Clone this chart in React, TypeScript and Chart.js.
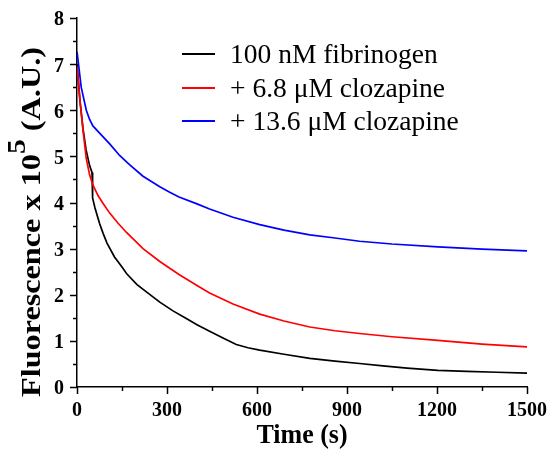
import React, { useEffect, useRef } from 'react';
import { Chart, registerables } from 'chart.js';

Chart.register(...registerables);

const seriesLabels = ['100 nM fibrinogen', '+ 6.8 \u03bcM clozapine', '+ 13.6 \u03bcM clozapine'];
const seriesColors = ['#000000', '#ff0000', '#0000ff'];

const timeBlack = [0, 10, 20, 30, 42, 50, 52, 60, 75, 87, 100, 125, 150, 165, 200, 240, 276, 320, 360, 400, 442, 490, 531, 570, 609, 690, 776, 860, 942, 1020, 1100, 1203, 1300, 1400, 1500];
const valBlack = [7.0, 6.2, 5.6, 5.15, 4.8, 4.65, 4.1, 3.88, 3.55, 3.33, 3.12, 2.82, 2.6, 2.46, 2.22, 2.02, 1.84, 1.65, 1.5, 1.35, 1.21, 1.05, 0.92, 0.85, 0.8, 0.71, 0.62, 0.56, 0.51, 0.46, 0.41, 0.36, 0.34, 0.32, 0.3];

const timeRed = [0, 10, 20, 31, 42, 53, 70, 87, 109, 137, 165, 220, 276, 340, 400, 442, 520, 609, 690, 776, 860, 942, 1050, 1203, 1350, 1500];
const valRed = [6.95, 6.2, 5.57, 4.95, 4.6, 4.38, 4.15, 3.98, 3.77, 3.55, 3.35, 3.0, 2.72, 2.44, 2.2, 2.04, 1.8, 1.58, 1.43, 1.3, 1.22, 1.16, 1.09, 1.01, 0.93, 0.87];

const timeBlue = [0, 5, 14, 31, 42, 53, 80, 109, 142, 175, 220, 276, 309, 340, 400, 442, 520, 609, 690, 776, 860, 942, 1050, 1203, 1350, 1500];
const valBlue = [7.27, 7.0, 6.5, 6.0, 5.8, 5.66, 5.47, 5.27, 5.02, 4.82, 4.57, 4.34, 4.22, 4.12, 3.97, 3.86, 3.68, 3.52, 3.4, 3.3, 3.23, 3.16, 3.1, 3.04, 2.99, 2.95];

const xTicks = [0, 300, 600, 900, 1200, 1500];
const yTicks = [0, 1, 2, 3, 4, 5, 6, 7, 8];

const SERIF = '"Liberation Serif", "Times New Roman", serif';

const toPoints = (xs: number[], ys: number[]) => xs.map((x, i) => ({ x, y: ys[i] }));

function drawStretched(ctx: any, text: string, x: number, y: number, font: string, align: string, sy: number) {
  ctx.save();
  ctx.translate(x, y);
  ctx.scale(1, sy);
  ctx.font = font;
  ctx.textAlign = align;
  ctx.textBaseline = 'alphabetic';
  ctx.fillText(text, 0, 0);
  ctx.restore();
}

const decorPlugin = {
  id: 'decor',
  afterDraw(chart: any) {
    const ctx = chart.ctx;
    const xs = chart.scales.x;
    const ys = chart.scales.y;
    const area = chart.chartArea;
    ctx.save();
    ctx.strokeStyle = '#000';
    ctx.fillStyle = '#000';
    ctx.lineWidth = 1.5;
    for (let t = xTicks[0]; t <= xTicks[xTicks.length - 1]; t += 150) {
      const px = Math.round(xs.getPixelForValue(t)) + 0.5;
      const len = t % 300 === 0 ? 7 : 4;
      ctx.beginPath();
      ctx.moveTo(px, area.bottom);
      ctx.lineTo(px, area.bottom + len);
      ctx.stroke();
    }
    for (let v = yTicks[0]; v <= yTicks[yTicks.length - 1]; v += 0.5) {
      const py = Math.round(ys.getPixelForValue(v)) + 0.5;
      const len = v % 1 === 0 ? 7 : 4;
      ctx.beginPath();
      ctx.moveTo(area.left, py);
      ctx.lineTo(area.left - len, py);
      ctx.stroke();
    }
    const tickFont = `bold 20px ${SERIF}`;
    xTicks.forEach((t) => {
      drawStretched(ctx, String(t), xs.getPixelForValue(t), 416, tickFont, 'center', 1.1);
    });
    yTicks.forEach((v) => {
      drawStretched(ctx, String(v), 64, ys.getPixelForValue(v) + 7.4, tickFont, 'right', 1.1);
    });
    const rows = [54, 88, 121];
    chart.data.datasets.forEach((ds: any, i: number) => {
      ctx.strokeStyle = ds.borderColor;
      ctx.lineWidth = 2;
      ctx.beginPath();
      ctx.moveTo(182, rows[i]);
      ctx.lineTo(215, rows[i]);
      ctx.stroke();
      drawStretched(ctx, ds.label, 230, rows[i] + 9, `27.5px ${SERIF}`, 'left', 1);
    });
    drawStretched(ctx, 'Time (s)', 302, 443, `bold 26px ${SERIF}`, 'center', 1.04);
    const p1 = 'Fluorescence x 10';
    const p2 = '5';
    const p3 = ' (A.U.)';
    const f1 = `bold 27px ${SERIF}`;
    const f2 = `bold 25px ${SERIF}`;
    ctx.font = f1;
    const w1 = ctx.measureText(p1).width;
    const w3 = ctx.measureText(p3).width;
    ctx.font = f2;
    const w2 = ctx.measureText(p2).width;
    const total = w1 + w2 + w3;
    const sx = 350 / total;
    ctx.translate(40, 222);
    ctx.rotate(-Math.PI / 2);
    ctx.scale(sx, 1);
    let x0 = -total / 2;
    ctx.textAlign = 'left';
    ctx.textBaseline = 'alphabetic';
    ctx.font = f1;
    ctx.fillText(p1, x0, 0);
    x0 += w1;
    ctx.font = f2;
    ctx.fillText(p2, x0, -15);
    x0 += w2;
    ctx.font = f1;
    ctx.fillText(p3, x0, 0);
    ctx.restore();
  },
};

export default function App() {
  const ref = useRef<HTMLCanvasElement | null>(null);
  useEffect(() => {
    if (!ref.current) return;
    const chart = new Chart(ref.current, {
      type: 'line',
      data: {
        datasets: [
          { label: seriesLabels[0], data: toPoints(timeBlack, valBlack), borderColor: seriesColors[0], order: 2 },
          { label: seriesLabels[1], data: toPoints(timeRed, valRed), borderColor: seriesColors[1], order: 1 },
          { label: seriesLabels[2], data: toPoints(timeBlue, valBlue), borderColor: seriesColors[2], order: 0 },
        ].map((d) => ({ ...d, borderWidth: 1.7, pointRadius: 0, tension: 0, fill: false })),
      },
      options: {
        animation: false,
        responsive: false,
        maintainAspectRatio: false,
        layout: { padding: { top: 18, right: 24, left: 0, bottom: 0 } },
        plugins: { legend: { display: false }, tooltip: { enabled: false } },
        scales: {
          x: {
            type: 'linear',
            min: 0,
            max: 1500,
            afterFit: (s: any) => { s.height = 62; },
            afterBuildTicks: (s: any) => { s.ticks = xTicks.map((v) => ({ value: v })); },
            grid: { display: false, drawOnChartArea: false },
            border: { display: true, color: '#000', width: 1.5 },
            ticks: { display: false },
          },
          y: {
            type: 'linear',
            min: 0,
            max: 8,
            afterFit: (s: any) => { s.width = 77; },
            afterBuildTicks: (s: any) => { s.ticks = yTicks.map((v) => ({ value: v })); },
            grid: { display: false, drawOnChartArea: false },
            border: { display: true, color: '#000', width: 1.5 },
            ticks: { display: false },
          },
        },
      } as any,
      plugins: [decorPlugin],
    });
    return () => chart.destroy();
  }, []);
  return (
    <div style={{ position: 'fixed', left: 0, top: 0, width: 551, height: 449, background: '#fff' }}>
      <canvas ref={ref} width={551} height={449} style={{ width: 551, height: 449, display: 'block' }} />
    </div>
  );
}
